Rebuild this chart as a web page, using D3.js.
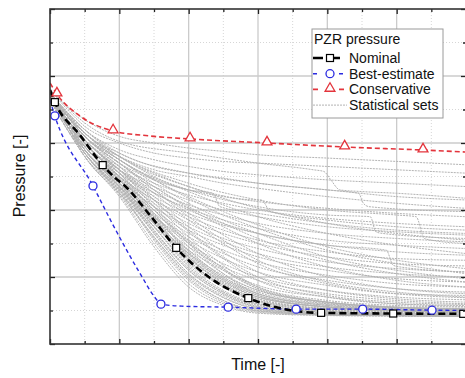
<!DOCTYPE html>
<html><head><meta charset="utf-8">
<script src="https://cdn.jsdelivr.net/npm/d3@7"></script>
<style>html,body{margin:0;padding:0;background:#fff;overflow:hidden}svg{display:block}</style>
</head><body>
<script>
// ---- data (time and pressure in normalised units: time 0..600, pressure 0..100) ----
const knots = [0,25,50,100,150,200,250,300,400,500,600];

const nominal = [[0,75.8],[7,72.2],[43,62.4],[76,53.4],[94,49.6],[108,47.2],[144,38.5],[182,28.7],[231,19.7],[286,13.7],[346,10.1],[391,9.3],[495,9.1],[600,9.0]];
const nominalMarks = [7,76,182,286,391,495,596];

const bestEstimate = [[0,72.8],[7,68.1],[62,47.2],[91,35.5],[130,21],[151,14.0],[160,11.9],[190,11.3],[257,11.0],[355,10.4],[451,10.4],[551,10.1],[600,10.0]];
const bestMarks = [7,62,160,257,355,451,551];

const conservative = [[0,77.9],[10,74.6],[43,68.1],[91,63.6],[144,62.1],[202,61.2],[313,60.0],[425,58.8],[538,57.9],[600,57.3]];
const consMarks = [10,91,202,313,425,538];

// statistical sets: pressure at each knot
const statSets = [
 [76,71,67,62,60,58.5,57.5,56.5,55.5,54.5,53.5],
 [76,70,65,60,57,55.5,54.5,54,53,52,51],
 [75,69,64,58,55,53,51.5,50.5,49,48,47],
 [75,69,63,57,53,51,49.5,48,46,44,43],
 [75,68,62,56,52,50,48,46.5,44,42,40.5],
 [75,68,62,54,49,46,44,42.5,40.5,39,38],
 [75,68,61,53,48,44.5,42,40,37.5,36,35],
 [75,67,61,52,47,43,40,38,35,33.5,32.5],
 [75,67,60,52,46,41.5,38.5,36,33,31.5,30.5],
 [75,67,60,51,45,40.5,37,34.5,31,29.5,28.5],
 [74,67,60,51,44,39,35.5,33,29.5,27.5,26.5],
 [74,66,59,50,43,38,34,31,27.5,25.5,25],
 [74,66,59,50,43,37,33,30,26,24,23.3],
 [74,66,59,50,42,36,31.5,28.5,24.5,22.5,21.5],
 [74,66,59,49,41,35,30.5,27,23,21,20],
 [74,66,58,49,41,34,29.5,26,22,19.5,18.5],
 [74,66,58,48,40,33,28,24.5,20.5,18,17],
 [74,65,58,48,39,32,27,23,19,16.5,15.5],
 [74,65,57,47,38,31,25.5,21.5,17.5,15,14.5],
 [74,65,57,47,38,30,24,20,16,14,13.2],
 [74,65,57,46,37,29,23,19,15,13,12],
 [74,65,57,46,36,28,22,17.5,14,12,11.2],
 [74,65,56,45,35,27,20.5,16,12.5,11,10.4],
 [75,66,60,50,38,26,18,13.5,10.5,9.8,9.5],
 [75,67,61,51,39,27,19,14,11,10,9.6],
 [74,66,59,49,37,25,17,12.5,10,9.4,9.2],
 [74,65,58,48,35,23,15.5,11.5,9.5,9,8.8],
 [74,65,58,47,33,21,14,10.5,9,8.7,8.5],
 [73,64,57,46,31,19,12.5,9.8,8.7,8.4,8.3],
 [73,64,56,44,29,17,11.5,9.2,8.5,8.3,8.2],
 [75,67,61,52,41,30,21,15,11.5,10.5,10],
 [75,67,61,52,42,32,23.5,17,12.5,11,10.5],
 [75,67,61,53,43,33.5,25.5,19,14,12,11.5],
 [75,67,61,52,44,35,27.5,21.5,16,13.5,12.5],
 [75,68,62,53,45,37,30,24,18,15,13.8],
 [75,68,62,54,46,39,32.5,27,20,16.5,15],
 [75,68,62,54,47,40.5,35,30,23,19,17],
 [75,68,62,55,48,42,37,33,26,22,19.5],
 [75,68,63,55,49,44,39.5,35.5,29,25,22.5],
 [74,66,59,48,36,25.5,18.5,14,11,10,9.8],
 [74,66,59,49,38,28,20,15.5,12,10.8,10.2],
 [74,66,58,48,37,27,19.5,15,11.8,10.6,10],
 [74,66,58,47,36,26,18.5,14,11,10,9.6],
 [75,67,60,50,40,29,21,16,12.5,11,10.5],
 [74,65,57,45,32,20,13,10,8.8,8.5,8.4],
 [75,67,61,51,40,30.5,22.5,17,13,11.5,11],
 [74,66,58,47,35,24,17,13,10.5,9.8,9.4],
 [75,66,60,50,39,28,20,15,11.5,10.3,9.8],
 [74,66,59,49,37.5,26.5,19,14.5,11.2,10.2,9.7],
 [75,67,60,51,41,31,22.5,16.5,12.2,10.8,10.3],
 [74,65,58,48,36,24.5,17.5,13,10.3,9.6,9.3],
 [75,67,61,52,43,34,26,20,14.5,12.5,11.8],
 [75,67,60,50,40,30,22,16.5,12.5,11,10.6],
 [74,66,58,47,34,22.5,15.5,11.8,9.6,9,8.8],
 [75,68,62,54,46,38,31,25,18.5,15.5,14],
 [75,68,62,54,47,41,36,31.5,25,21,18.5],
 [75,68,62,55,49,43.5,38.5,34.5,28,24,21],
 [75,68,63,56,50,45.5,41.5,38,33,29.5,27],
 [75,68,63,56,51,47,43.5,40.5,36,33,31],
 [74,65,58,47,34,22,15,11,9.3,8.8,8.6],
 [74,65,57,46,33,21,14.5,10.8,9,8.6,8.4],
 [73,64,57,45,31.5,19.5,13,10,8.8,8.5,8.3],
 [73,64,56,44.5,30,18,12,9.5,8.6,8.4,8.2],
 [74,65,58,47.5,35,23.5,16,12,9.8,9.2,9],
 [74,66,58,48,36.5,25,17.5,12.8,10,9.3,9],
 [75,66,59,49,37,26,18,13.5,10.6,9.8,9.4],
 [75,66,60,49.5,38.5,27.5,19.5,14.5,11,10,9.6],
 [74,65,57,46.5,33.5,22,15,11.2,9.2,8.8,8.6],
 [73,64,56,45.5,32,20.5,13.8,10.4,8.9,8.6,8.4]
];
// statistical sets with sudden drops: [time, pressure] pairs
const stepSets = [
 [[0,76],[50,66],[100,60.5],[200,57],[300,54],[380,52],[395,51.5],[405,49],[418,46],[450,45.5],[500,45],[600,43.5]],
 [[0,75],[50,64],[100,57],[200,51],[300,48],[400,46],[445,45],[452,42],[460,41],[600,39.5]],
 [[0,75],[50,63],[100,55],[200,46],[300,41],[400,38.5],[462,38],[470,33.5],[480,33],[600,31.5]],
 [[0,75],[50,63],[100,56],[200,48],[300,43],[400,40],[500,38.5],[528,38],[540,31.5],[550,31],[600,30]],
 [[0,74],[50,61],[100,52],[200,40],[300,33],[400,29.5],[485,28],[495,23.5],[505,23],[600,21.5]],
 [[0,75],[50,63],[100,55],[200,46],[235,45],[245,41],[300,39],[400,36],[500,34],[600,33]],
 [[0,75],[50,64],[100,56],[200,47],[300,43],[305,43],[318,39.5],[400,37],[500,35],[600,34]]
];

const xMajor = [0,100,200,300,400,500,600];
const xMinor = [50,150,250,350,450,550];
const yMajor = [0,20,40,60,80,100];
const yMinor = [10,30,50,70,90];

const legendItems = ["Nominal","Best-estimate","Conservative","Statistical sets"];

// ---- drawing ----
const W = 465, H = 378;
const L = 50, R = 466, Tp = 9, B = 344;
const x = d3.scaleLinear().domain([0,600]).range([L,R]);
const y = d3.scaleLinear().domain([0,100]).range([B,Tp]);

const svg = d3.select("body").append("svg").attr("width",W).attr("height",H)
  .style("font-family","'Liberation Sans', Arial, sans-serif");

svg.append("defs").append("clipPath").attr("id","clip")
  .append("rect").attr("x",L).attr("y",Tp).attr("width",R-L).attr("height",B-Tp);

// grid
const grid = svg.append("g");
grid.selectAll(".vmin").data(xMinor).join("line")
  .attr("x1",d=>x(d)).attr("x2",d=>x(d)).attr("y1",Tp).attr("y2",B)
  .attr("stroke","#d6d6d6").attr("stroke-width",1).attr("stroke-dasharray","1,2");
grid.selectAll(".hmin").data(yMinor).join("line")
  .attr("y1",d=>y(d)).attr("y2",d=>y(d)).attr("x1",L).attr("x2",R)
  .attr("stroke","#d6d6d6").attr("stroke-width",1).attr("stroke-dasharray","1,2");
grid.selectAll(".vmaj").data(xMajor.slice(1,-1)).join("line")
  .attr("x1",d=>x(d)).attr("x2",d=>x(d)).attr("y1",Tp).attr("y2",B)
  .attr("stroke","#cbcbcb").attr("stroke-width",1.3);
grid.selectAll(".hmaj").data(yMajor.slice(1,-1)).join("line")
  .attr("y1",d=>y(d)).attr("y2",d=>y(d)).attr("x1",L).attr("x2",R)
  .attr("stroke","#cbcbcb").attr("stroke-width",1.3);

const plot = svg.append("g").attr("clip-path","url(#clip)");
const line = d3.line().x(d=>x(d[0])).y(d=>y(d[1])).curve(d3.curveMonotoneX);

const allStats = statSets.map(s=>s.map((v,i)=>[knots[i],v])).concat(stepSets);
plot.selectAll(".stat").data(allStats).join("path")
  .attr("d",line).attr("fill","none").attr("stroke","#b3b3b3")
  .attr("stroke-width",1).attr("stroke-dasharray","2,1");

const interp = (series,t)=>{
  for(let i=0;i<series.length-1;i++){
    const a=series[i],b=series[i+1];
    if(t>=a[0]&&t<=b[0]) return a[1]+(b[1]-a[1])*(t-a[0])/(b[0]-a[0]);
  }
  return series[series.length-1][1];
};

const red="#e3343c", blue="#2b2be0";
plot.append("path").datum(conservative).attr("d",line).attr("fill","none")
  .attr("stroke",red).attr("stroke-width",1.6).attr("stroke-dasharray","5,3");
plot.append("path").datum(bestEstimate).attr("d",line).attr("fill","none")
  .attr("stroke",blue).attr("stroke-width",1.4).attr("stroke-dasharray","4,3");
plot.append("path").datum(nominal).attr("d",line).attr("fill","none")
  .attr("stroke","#000").attr("stroke-width",2.6).attr("stroke-dasharray","7,4");

const tri = d3.symbol().type(d3.symbolTriangle).size(42);
plot.selectAll(".tri").data(consMarks).join("path")
  .attr("d",tri).attr("transform",d=>`translate(${x(d)},${y(interp(conservative,d))-1})`)
  .attr("fill","#fff").attr("stroke",red).attr("stroke-width",1.3);
plot.selectAll(".circ").data(bestMarks).join("circle")
  .attr("cx",d=>x(d)).attr("cy",d=>y(interp(bestEstimate,d))).attr("r",4)
  .attr("fill","#fff").attr("stroke",blue).attr("stroke-width",1.3);
plot.selectAll(".sq").data(nominalMarks).join("rect")
  .attr("x",d=>x(d)-3.5).attr("y",d=>y(interp(nominal,d))-3.5).attr("width",7).attr("height",7)
  .attr("fill","#fff").attr("stroke","#000").attr("stroke-width",1.2);

// axes (ticks inside, no labels)
function ax(gen, tr, vals, size){
  svg.append("g").attr("transform",tr)
    .call(gen.tickValues(vals).tickSize(size).tickFormat(""))
    .call(g=>{g.select(".domain").remove(); g.selectAll("line").attr("stroke","#222").attr("stroke-width",1.3);});
}
ax(d3.axisBottom(x),`translate(0,${B})`,xMajor,-5);
ax(d3.axisBottom(x),`translate(0,${B})`,xMinor,-3);
ax(d3.axisTop(x),`translate(0,${Tp})`,xMajor,-5);
ax(d3.axisTop(x),`translate(0,${Tp})`,xMinor,-3);
ax(d3.axisLeft(y),`translate(${L},0)`,yMajor,-5);
ax(d3.axisLeft(y),`translate(${L},0)`,yMinor,-3);
ax(d3.axisRight(y),`translate(${R},0)`,yMajor,-5);
ax(d3.axisRight(y),`translate(${R},0)`,yMinor,-3);

svg.append("rect").attr("x",L).attr("y",Tp).attr("width",R-L).attr("height",B-Tp)
  .attr("fill","none").attr("stroke","#333").attr("stroke-width",1.6);

// axis titles
svg.append("text").attr("x",258).attr("y",370).attr("text-anchor","middle")
  .attr("font-size",16).attr("fill","#111").text("Time [-]");
svg.append("text").attr("transform","translate(25,176) rotate(-90)").attr("text-anchor","middle")
  .attr("font-size",16).attr("fill","#111").text("Pressure [-]");

// legend
const lg = svg.append("g");
lg.append("rect").attr("x",312).attr("y",29).attr("width",131).attr("height",89)
  .attr("fill","#fff").attr("stroke","#9a9a9a").attr("stroke-width",1);
lg.append("text").attr("x",314).attr("y",44).attr("font-size",14).attr("fill","#111").text("PZR pressure");
const rowY = i=>58+i*15.7;
lg.selectAll(".lt").data(legendItems).join("text")
  .attr("x",349).attr("y",(d,i)=>rowY(i)+5).attr("font-size",14).attr("fill","#111").text(d=>d);
// samples
lg.append("line").attr("x1",313).attr("x2",347).attr("y1",rowY(0)).attr("y2",rowY(0))
  .attr("stroke","#000").attr("stroke-width",2.6).attr("stroke-dasharray","10,7");
lg.append("rect").attr("x",326.5).attr("y",rowY(0)-3.5).attr("width",7).attr("height",7)
  .attr("fill","#fff").attr("stroke","#000").attr("stroke-width",1.2);
lg.append("line").attr("x1",313).attr("x2",347).attr("y1",rowY(1)).attr("y2",rowY(1))
  .attr("stroke",blue).attr("stroke-width",1.4).attr("stroke-dasharray","4,9");
lg.append("circle").attr("cx",330).attr("cy",rowY(1)).attr("r",4)
  .attr("fill","#fff").attr("stroke",blue).attr("stroke-width",1.3);
lg.append("line").attr("x1",313).attr("x2",347).attr("y1",rowY(2)).attr("y2",rowY(2))
  .attr("stroke",red).attr("stroke-width",1.6).attr("stroke-dasharray","5,8");
lg.append("path").attr("d",tri).attr("transform",`translate(330,${rowY(2)-1})`)
  .attr("fill","#fff").attr("stroke",red).attr("stroke-width",1.3);
lg.append("line").attr("x1",313).attr("x2",347).attr("y1",rowY(3)).attr("y2",rowY(3))
  .attr("stroke","#b3b3b3").attr("stroke-width",1).attr("stroke-dasharray","2,1");
</script>
</body></html>
